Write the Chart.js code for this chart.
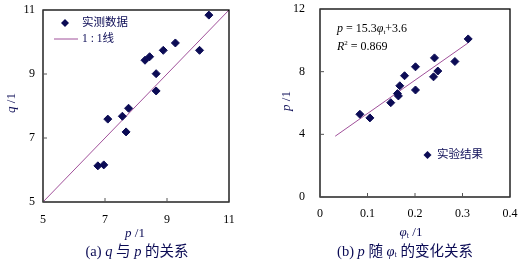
<!DOCTYPE html>
<html>
<head>
<meta charset="utf-8">
<script src="https://cdn.jsdelivr.net/npm/chart.js@4"></script>
<style>
  body { margin: 0; background: #fff; }
  .wrap { position: relative; width: 519px; height: 262px; }
  canvas { position: absolute; top: 0; }
</style>
</head>
<body>
<div class="wrap">
  <canvas id="chartA" width="260" height="262" style="left:0"></canvas>
  <canvas id="chartB" width="259" height="262" style="left:260px"></canvas>
</div>
<script>
// (a) measured q vs p
const pMeasured = [6.77, 6.96, 7.09, 7.56, 7.68, 7.76, 8.29, 8.44, 8.65, 8.65, 8.88, 9.27, 10.05, 10.35];
const qMeasured = [6.13, 6.16, 7.59, 7.68, 7.19, 7.93, 9.43, 9.54, 9.01, 8.47, 9.74, 9.97, 9.74, 10.84];
const lineA = [[5, 5], [11, 11]];
const ticksA = [5, 7, 9, 11];

// (b) p vs phi_t
const phiT = [0.084, 0.105, 0.149, 0.163, 0.165, 0.168, 0.178, 0.201, 0.201, 0.239, 0.241, 0.248, 0.284, 0.312];
const pResult = [5.28, 5.05, 6.02, 6.60, 6.45, 7.10, 7.74, 8.31, 6.83, 7.67, 8.88, 8.04, 8.65, 10.09];
const fitB = [[0.032, 3.88], [0.312, 9.84]];
const xTicksB = [0, 0.1, 0.2, 0.3, 0.4];
const yTicksB = [0, 4, 8, 12];

const SERIF = "'Liberation Serif', 'Times New Roman', serif";
const CJK = "'Liberation Serif', 'Noto Sans CJK SC', serif";
const dotColor = "#0b0b55";
const lineColor = "#a0509a";

// draw a run of text pieces: [text, italic, size, dy]
function drawRun(ctx, parts, x, y, size, align) {
  let total = 0;
  parts.forEach(p => {
    ctx.font = (p[1] ? "italic " : "") + (p[2] || size) + "px " + CJK;
    total += ctx.measureText(p[0]).width;
  });
  let cx = align === "center" ? x - total / 2 : x;
  parts.forEach(p => {
    ctx.font = (p[1] ? "italic " : "") + (p[2] || size) + "px " + CJK;
    ctx.fillText(p[0], cx, y + (p[3] || 0));
    cx += ctx.measureText(p[0]).width;
  });
}

function diamond(ctx, x, y, r) {
  ctx.beginPath();
  ctx.moveTo(x, y - r); ctx.lineTo(x + r, y); ctx.lineTo(x, y + r); ctx.lineTo(x - r, y);
  ctx.closePath();
  ctx.fillStyle = dotColor;
  ctx.fill();
}

function framePlugin(extra) {
  return {
    id: "frame",
    afterDraw(chart) {
      const { ctx, chartArea: a, scales } = chart;
      ctx.save();
      ctx.strokeStyle = "#000";
      ctx.lineWidth = 1.3;
      ctx.strokeRect(a.left, a.top, a.right - a.left, a.bottom - a.top);
      // inward tick marks
      ctx.lineWidth = 1;
      ctx.strokeStyle = "#555";
      scales.x.ticks.forEach(t => {
        const px = scales.x.getPixelForValue(t.value);
        ctx.beginPath(); ctx.moveTo(px, a.bottom); ctx.lineTo(px, a.bottom - 4); ctx.stroke();
      });
      scales.y.ticks.forEach(t => {
        const py = scales.y.getPixelForValue(t.value);
        ctx.beginPath(); ctx.moveTo(a.left, py); ctx.lineTo(a.left + 4, py); ctx.stroke();
      });
      ctx.fillStyle = "#000";
      ctx.textBaseline = "middle";
      extra(ctx, chart);
      ctx.restore();
    }
  };
}

function scaleOpts(min, max, values, pad, fit, isY) {
  return {
    type: "linear",
    min: min,
    max: max,
    afterBuildTicks: s => { s.ticks = values.map(v => ({ value: v })); },
    afterFit: s => {
      if (isY) s.width = fit; else s.height = fit;
      // let layout padding alone decide the plot area
      s.paddingTop = s.paddingBottom = s.paddingLeft = s.paddingRight = 0;
    },
    grid: { display: false, drawTicks: false },
    border: { display: false },
    ticks: {
      padding: pad,
      color: "#000",
      font: { family: SERIF, size: 12 },
      callback: v => String(v)
    }
  };
}

new Chart(document.getElementById("chartA"), {
  type: "scatter",
  data: {
    datasets: [
      {
        label: "实测数据",
        data: pMeasured.map((p, i) => ({ x: p, y: qMeasured[i] })),
        pointStyle: "rectRot",
        pointRadius: 4,
        backgroundColor: dotColor,
        borderColor: dotColor
      },
      {
        label: "1：1线",
        type: "line",
        data: lineA.map(d => ({ x: d[0], y: d[1] })),
        borderColor: lineColor,
        borderWidth: 1,
        pointRadius: 0,
        fill: false
      }
    ]
  },
  options: {
    responsive: false,
    animation: false,
    layout: { padding: { top: 10, right: 31, left: 0, bottom: 0 } },
    plugins: { legend: { display: false }, tooltip: { enabled: false } },
    scales: {
      x: scaleOpts(5, 11, ticksA, 11, 60, false),
      y: scaleOpts(5, 11, ticksA, 8, 43, true)
    }
  },
  plugins: [framePlugin(ctx => {
    // legend
    diamond(ctx, 65, 23, 4);
    ctx.textAlign = "left";
    drawRun(ctx, [["实测数据", false]], 82, 23, 11.5);
    ctx.strokeStyle = lineColor;
    ctx.beginPath(); ctx.moveTo(54, 39); ctx.lineTo(78, 39); ctx.stroke();
    drawRun(ctx, [["1 : 1线", false]], 82, 39, 11.5);
    // axis titles
    drawRun(ctx, [["p", true], [" /1", false]], 135, 234, 13, "center");
    ctx.save();
    ctx.translate(12, 103);
    ctx.rotate(-Math.PI / 2);
    drawRun(ctx, [["q", true], [" /1", false]], 0, 0, 13, "center");
    ctx.restore();
    drawRun(ctx, [["(a) ", false], ["q", true], [" 与 ", false], ["p", true], [" 的关系", false]], 137, 252, 14.5, "center");
  })]
});

new Chart(document.getElementById("chartB"), {
  type: "scatter",
  data: {
    datasets: [
      {
        label: "实验结果",
        data: phiT.map((x, i) => ({ x: x, y: pResult[i] })),
        pointStyle: "rectRot",
        pointRadius: 4,
        backgroundColor: dotColor,
        borderColor: dotColor
      },
      {
        label: "拟合",
        type: "line",
        data: fitB.map(d => ({ x: d[0], y: d[1] })),
        borderColor: lineColor,
        borderWidth: 1,
        pointRadius: 0,
        fill: false
      }
    ]
  },
  options: {
    responsive: false,
    animation: false,
    layout: { padding: { top: 9, right: 9, left: 0, bottom: 0 } },
    plugins: { legend: { display: false }, tooltip: { enabled: false } },
    scales: {
      x: scaleOpts(0, 0.4, xTicksB, 10, 65, false),
      y: scaleOpts(0, 12, yTicksB, 15, 60, true)
    }
  },
  plugins: [framePlugin(ctx => {
    ctx.textAlign = "left";
    drawRun(ctx, [["p", true], [" = 15.3", false], ["φ", true], ["t", false, 7, 3], ["+3.6", false]], 77, 29, 12);
    drawRun(ctx, [["R", true], ["2", false, 7, -4], [" = 0.869", false]], 77, 47, 12);
    diamond(ctx, 167.5, 155, 4);
    drawRun(ctx, [["实验结果", false]], 177, 155, 11.5);
    drawRun(ctx, [["φ", true], ["t", false, 8, 3], [" /1", false]], 151, 233, 13, "center");
    ctx.save();
    ctx.translate(27, 101);
    ctx.rotate(-Math.PI / 2);
    drawRun(ctx, [["p", true], [" /1", false]], 0, 0, 13, "center");
    ctx.restore();
    drawRun(ctx, [["(b) ", false], ["p", true], [" 随 ", false], ["φ", true], ["t", false, 8, 3], [" 的变化关系", false]], 145, 252, 14.5, "center");
  })]
});
</script>
</body>
</html>
